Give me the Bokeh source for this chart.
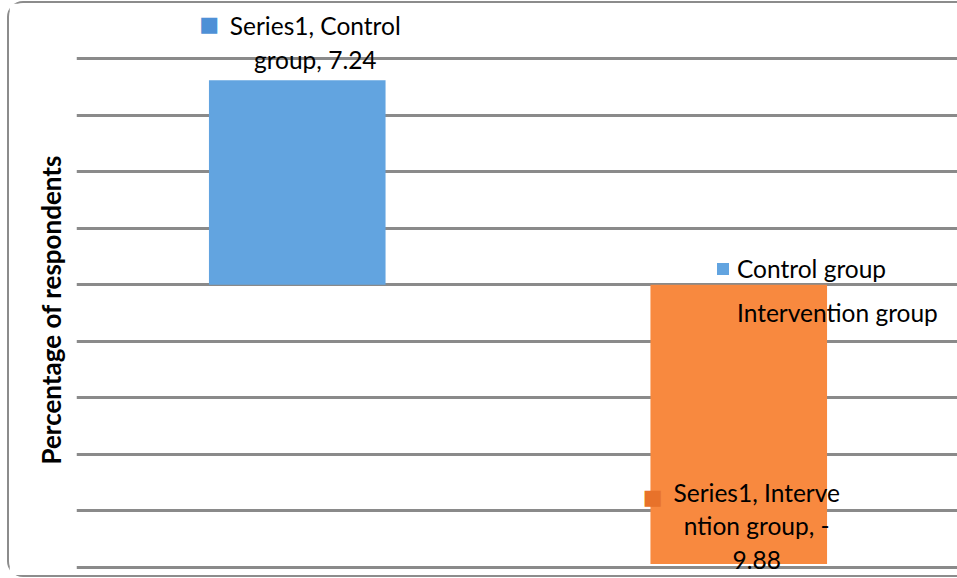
from bokeh.plotting import figure
from bokeh.models import (FactorRange, Range1d, FixedTicker, ColumnDataSource,
                          Title, InlineStyleSheet)
from bokeh.core.properties import value
from bokeh.embed import file_html
from bokeh.resources import INLINE

# ---- data ----
categories = ["Control group", "Intervention group"]
values = [7.24, -9.88]
label_lines = ["Series1, Control\ngroup, 7.24", "Series1, Interve\nntion group, -\n9.88"]
y_ticks = [-10, -8, -6, -4, -2, 0, 2, 4, 6, 8]
y_title = "Percentage of respondents"
bar_colors = ["#62a4e0", "#f8893f"]
marker_colors = ["#4e90d6", "#e8722a"]

src = ColumnDataSource(dict(
    cat=categories,
    val=values,
    lbl=label_lines,
    color=bar_colors,
    mcolor=marker_colors,
    mark=["\u25A0", "\u25A0"],
    xo=[18, 18],
    yo=[-38, -38],
    mxo=[-88, -86],
    myo=[-56, -67],
))

p = figure(
    width=948, height=572,
    x_range=FactorRange(*categories),
    y_range=Range1d(-10.43, 9.96),
    output_backend="svg", toolbar_location=None,
    min_border_left=67, min_border_right=0, min_border_top=0, min_border_bottom=0,
)
p.stylesheets = [InlineStyleSheet(css=(
    ":host { box-sizing: content-box; margin: 1px 0 0 7px;"
    " border: 2px solid #8c8c8c; border-right: none;"
    " border-radius: 16px 0 0 16px; }"
))]
p.outline_line_color = None
p.background_fill_color = "white"
p.border_fill_color = "white"

p.xaxis.visible = False
p.yaxis.visible = False
p.xgrid.visible = False

p.ygrid.ticker = FixedTicker(ticks=y_ticks)
p.ygrid.grid_line_color = "#8a8a8a"
p.ygrid.grid_line_width = 3

p.add_layout(Title(text=y_title, align="left", offset=115, text_font="Lato",
                   text_font_style="bold", text_font_size="26px",
                   text_color="#000000", standoff=20), "left")

p.vbar(x="cat", top="val", bottom=0, width=0.4, source=src,
       fill_color="color", line_color=None, legend_field="cat")

p.text(x="cat", y="val", text="lbl", source=src, x_offset="xo", y_offset="yo",
       text_align="center", text_baseline="middle", text_font=value("Lato"),
       text_font_size="24.5px", text_color="#000000", text_line_height=1.15)
p.text(x="cat", y="val", text="mark", source=src, x_offset="mxo", y_offset="myo",
       text_align="center", text_baseline="middle", text_font=value("DejaVu Sans"),
       text_font_size="21px", text_color="mcolor")

lg = p.legend[0]
lg.location = (639, 252)
lg.label_text_font = "Lato"
lg.label_text_font_size = "24.5px"
lg.label_text_color = "#000000"
lg.glyph_width = 15
lg.glyph_height = 15
lg.label_height = 28
lg.spacing = 15
lg.label_standoff = 7
lg.padding = 0
lg.margin = 0
lg.border_line_color = None
lg.background_fill_alpha = 0

open("out.html", "w").write(file_html(p, INLINE))
